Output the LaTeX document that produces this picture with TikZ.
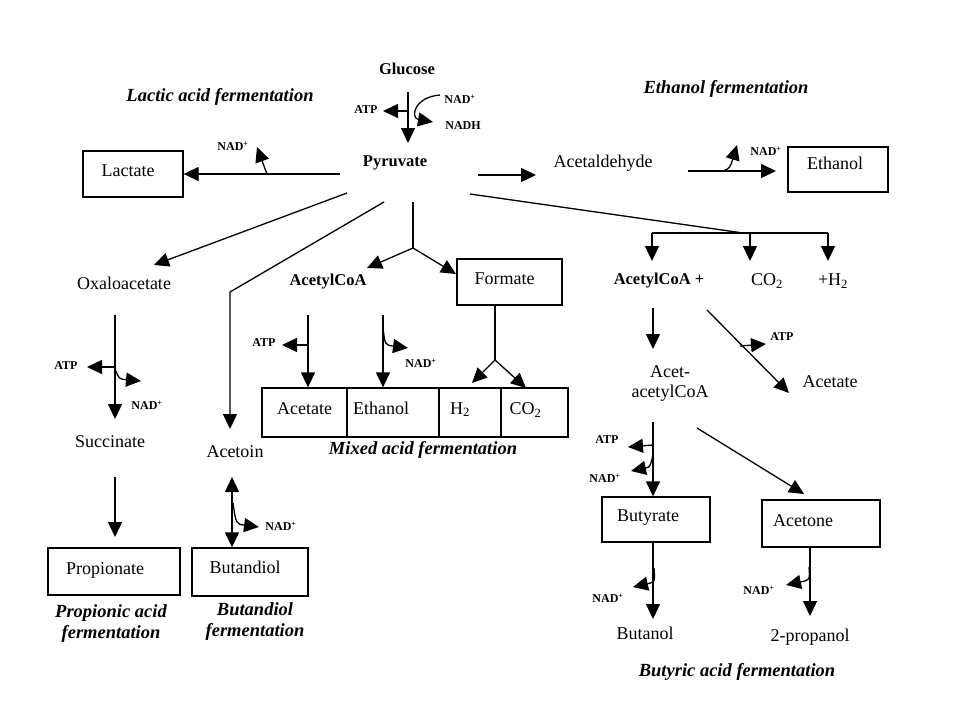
\documentclass[tikz,border=0pt]{standalone}
\usepackage{fontspec}
\setmainfont{Liberation Serif}
\usetikzlibrary{arrows.meta}
\newcommand\bxt[3]{\raisebox{#2}{#3}\hspace*{#1}}
\begin{document}
\begin{tikzpicture}[x=1pt,y=-1pt,
  arr/.style={-{Triangle[length=15pt,width=14pt]}, line width=1.3pt},
  dbl/.style={{Triangle[length=15pt,width=14pt]}-{Triangle[length=15pt,width=14pt]}, line width=1.3pt},
  ln/.style={line width=1.3pt},
  box/.style={draw, line width=1.3pt, font=\fontsize{18}{20}\selectfont, inner sep=0pt},
  lbl/.style={font=\fontsize{18}{20}\selectfont, inner sep=1pt},
  bld/.style={font=\bfseries\fontsize{16.5}{18}\selectfont, inner sep=1pt},
  sml/.style={font=\bfseries\fontsize{12}{13}\selectfont, inner sep=0pt},
  ital/.style={font=\bfseries\itshape\fontsize{18.5}{21}\selectfont, align=center, inner sep=0pt}]
\useasboundingbox[fill=white] (0,0) rectangle (960,720);

% ---------- Glucose -> Pyruvate ----------
\node[bld] (glucose) at (407,69) {Glucose};
\node[bld] (pyruvate) at (395,163) {Pyruvate};
\node[sml] (atp1) at (366,110) {ATP};
\node[sml] (nad1) at (460,99) {NAD\textsuperscript{+}};
\node[sml] (nadh) at (463,126) {NADH};
\coordinate (g1) at (408,92); \coordinate (g2) at (408,143);
\draw[arr] (g1) -- (g2);
\coordinate (ga) at (408,111); \coordinate (gat) at (383,111);
\draw[arr] (ga) -- (gat);
\coordinate (gn1) at (440,95); \coordinate (gn2) at (433,122);
\draw[arr] (gn1) .. controls (414,97) and (410,118) .. (gn2);

% ---------- Lactic acid ----------
\node[ital] (lactic) at (220,97) {Lactic acid fermentation};
\node[box, minimum width=100pt, minimum height=46pt] (lactate) at (133,174) {\bxt{10pt}{6pt}{Lactate}};
\coordinate (l1) at (340,174);
\draw[arr] (l1) -- (lactate.east);
\coordinate (ln1) at (267,174); \coordinate (ln2) at (257,147);
\draw[arr] (ln1) .. controls (264,166) .. (ln2);
\node[sml] (nadl) at (233,146) {NAD\textsuperscript{+}};

% ---------- Ethanol ----------
\node[ital] (ethferm) at (726,89) {Ethanol fermentation};
\coordinate (e1) at (478,175); \coordinate (e2) at (536,175);
\draw[arr] (e1) -- (e2);
\node[lbl] (acetald) at (603,163) {Acetaldehyde};
\coordinate (e3) at (688,171); \coordinate (e4) at (776,171);
\draw[arr] (e3) -- (e4);
\coordinate (en1) at (723,171); \coordinate (en2) at (737,145);
\draw[arr] (en1) .. controls (730,168) .. (en2);
\node[sml] (nade) at (766,151) {NAD\textsuperscript{+}};
\node[box, minimum width=100pt, minimum height=45pt] (ethanolbox) at (838,169.5) {\bxt{6pt}{12pt}{Ethanol}};

% ---------- branches from pyruvate ----------
\coordinate (p1) at (347,193); \coordinate (oxt) at (154,265);
\draw[arr] (p1) -- (oxt);
\node[lbl] (oxalo) at (124,283) {Oxaloacetate};
\coordinate (p2) at (384,202); \coordinate (pc) at (230,292); \coordinate (act) at (230,429);
\draw[arr] (p2) -- (pc) -- (act);
\node[lbl] (acetoin) at (235,452) {Acetoin};
\coordinate (p3) at (413,202); \coordinate (pj) at (413,248);
\coordinate (acot) at (367,268); \coordinate (fort) at (456,274);
\draw[ln] (p3) -- (pj);
\draw[arr] (pj) -- (acot);
\draw[arr] (pj) -- (fort);
\node[bld] (acetylcoa) at (328,282) {AcetylCoA};
\node[box, minimum width=105pt, minimum height=46pt] (formate) at (509.5,282) {\bxt{10pt}{6pt}{Formate}};
\coordinate (p4) at (470,194); \coordinate (bj) at (743,233);
\draw[ln] (p4) -- (bj);
\coordinate (bl) at (652,233); \coordinate (bm) at (750,233); \coordinate (br) at (828,233);
\coordinate (blt) at (652,261); \coordinate (bmt) at (750,261); \coordinate (brt) at (828,261);
\draw[ln] (bl) -- (br);
\draw[arr] (bl) -- (blt);
\draw[arr] (bm) -- (bmt);
\draw[arr] (br) -- (brt);
\node[bld] (acetylplus) at (659,281) {AcetylCoA +};
\node[lbl] (co2r) at (767,281) {CO\textsubscript{2}};
\node[lbl] (h2r) at (833,281) {+H\textsubscript{2}};

% ---------- Propionic ----------
\coordinate (o1) at (115,315); \coordinate (o2) at (115,419);
\draw[arr] (o1) -- (o2);
\coordinate (oa1) at (115,367); \coordinate (oa2) at (87,367);
\draw[arr] (oa1) -- (oa2);
\node[sml] (atpo) at (66,366) {ATP};
\coordinate (on1) at (115,369); \coordinate (on2) at (141,381);
\draw[arr] (on1) .. controls (119,379) .. (on2);
\node[sml] (nado) at (147,405) {NAD\textsuperscript{+}};
\node[lbl] (succinate) at (110,442) {Succinate};
\coordinate (s1) at (115,477); \coordinate (s2) at (115,537);
\draw[arr] (s1) -- (s2);
\node[box, minimum width=132pt, minimum height=47pt] (propionate) at (114,571.5) {\bxt{18pt}{6pt}{Propionate}};
\node[ital] (propferm) at (111,624) {Propionic acid\\fermentation};

% ---------- Butandiol ----------
\node[box, minimum width=116pt, minimum height=48pt] (butandiol) at (250,572) {\bxt{10pt}{10pt}{Butandiol}};
\coordinate (bd1) at (232,477);
\draw[dbl] (bd1) -- (butandiol.north -| bd1);
\coordinate (bn1) at (233,503); \coordinate (bn2) at (259,527);
\draw[arr] (bn1) .. controls (236,524) .. (bn2);
\node[sml] (nadb) at (281,526) {NAD\textsuperscript{+}};
\node[ital] (butferm) at (255,622) {Butandiol\\fermentation};

% ---------- Mixed acid ----------
\node[box, minimum width=85pt, minimum height=49pt] (cacet) at (304.5,412.5) {\bxt{0pt}{8pt}{Acetate}};
\node[box, minimum width=92pt, minimum height=49pt] (ceth) at (393,412.5) {\bxt{24pt}{8pt}{Ethanol}};
\node[box, minimum width=62pt, minimum height=49pt] (ch2) at (470,412.5) {\bxt{20pt}{8pt}{H\textsubscript{2}}};
\node[box, minimum width=67pt, minimum height=49pt] (cco2) at (534.5,412.5) {\bxt{18pt}{8pt}{CO\textsubscript{2}}};
\node[ital] (mixferm) at (423,450) {Mixed acid fermentation};
\coordinate (m1) at (308,315); \coordinate (m2) at (383,315);
\draw[arr] (m1) -- (cacet.north -| m1);
\draw[arr] (m2) -- (ceth.north -| m2);
\coordinate (ma1) at (308,345); \coordinate (ma2) at (282,345);
\draw[arr] (ma1) -- (ma2);
\node[sml] (atpm) at (264,343) {ATP};
\coordinate (mn1) at (383,328); \coordinate (mn2) at (408,348);
\draw[arr] (mn1) .. controls (385,345) .. (mn2);
\node[sml] (nadm) at (421,363) {NAD\textsuperscript{+}};
\coordinate (fj) at (495,360); \coordinate (fh2) at (472,383); \coordinate (fco2) at (526,388);
\draw[ln] (formate.south -| fj) -- (fj);
\draw[arr] (fj) -- (fh2);
\draw[arr] (fj) -- (fco2);

% ---------- Butyric ----------
\coordinate (r1) at (653,308); \coordinate (r2) at (653,349);
\draw[arr] (r1) -- (r2);
\node[lbl, align=center] (acetacetyl) at (670,383) {Acet-\\acetylCoA};
\coordinate (r3) at (707,310); \coordinate (r4) at (789,393);
\draw[arr] (r3) -- (r4);
\coordinate (ra1) at (740,346); \coordinate (ra2) at (766,344);
\draw[arr] (ra1) -- (ra2);
\node[sml] (atpr) at (782,337) {ATP};
\node[lbl] (acetater) at (830,382) {Acetate};
\node[box, minimum width=108pt, minimum height=45pt] (butyrate) at (656,519.5) {\bxt{16pt}{8pt}{Butyrate}};
\node[box, minimum width=118pt, minimum height=47pt] (acetone) at (821,523.5) {\bxt{36pt}{6pt}{Acetone}};
\coordinate (r5) at (653,422);
\draw[arr] (r5) -- (butyrate.north -| r5);
\coordinate (rb1) at (653,445); \coordinate (rb2) at (628,447);
\draw[arr] (rb1) -- (rb2);
\node[sml] (atpb) at (607,440) {ATP};
\coordinate (rn1) at (653,455); \coordinate (rn2) at (631,471);
\draw[arr] (rn1) .. controls (650,467) .. (rn2);
\node[sml] (nadr) at (605,478) {NAD\textsuperscript{+}};
\coordinate (r6) at (697,428); \coordinate (r7) at (804,494);
\draw[arr] (r6) -- (r7);
\coordinate (r8) at (653,619);
\draw[arr] (butyrate.south -| r5) -- (r8);
\coordinate (bu1) at (654,568); \coordinate (bu2) at (633,587);
\draw[arr] (bu1) .. controls (655,582) .. (bu2);
\node[sml] (nadbu) at (608,598) {NAD\textsuperscript{+}};
\node[lbl] (butanol) at (645,633) {Butanol};
\coordinate (pr) at (810,616);
\draw[arr] (acetone.south -| pr) -- (pr);
\coordinate (pn1) at (809,567); \coordinate (pn2) at (786,585);
\draw[arr] (pn1) .. controls (810,580) .. (pn2);
\node[sml] (nadp) at (759,590) {NAD\textsuperscript{+}};
\node[lbl] (propanol) at (810,637) {2-propanol};
\node[ital] (butyferm) at (737,672) {Butyric acid fermentation};
\end{tikzpicture}
\end{document}
